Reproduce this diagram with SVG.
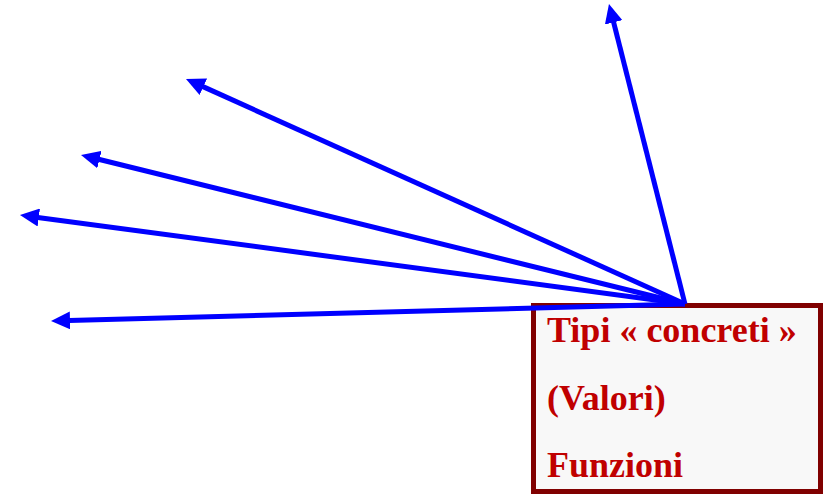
<svg xmlns="http://www.w3.org/2000/svg" width="827" height="496" viewBox="0 0 827 496">
<style>
.box{fill:#f8f8f8;stroke:#800000;stroke-width:5}
.lbl{font-family:"Liberation Serif",serif;font-weight:bold;font-size:36px;fill:#c00000}
.arr{stroke:#0000ff;stroke-width:5;fill:none;marker-end:url(#ah)}
</style>
<defs>
<marker id="ah" viewBox="0 0 19 18" markerWidth="19" markerHeight="18" markerUnits="userSpaceOnUse" refX="1" refY="9" orient="auto">
<path d="M0,0 L19,9 L0,18 z" fill="#0000ff"/>
</marker>
</defs>
<g id="node-tipi">
<rect class="box" x="533.5" y="305.5" width="287" height="186"/>
<text class="lbl" x="547" y="342">Tipi « concreti »</text>
<text class="lbl" x="547" y="410">(Valori)</text>
<text class="lbl" x="547" y="477">Funzioni</text>
</g>
<g id="connectors">
<line class="arr" x1="685" y1="304" x2="613.4" y2="21.4"/>
<line class="arr" x1="685" y1="304" x2="202.4" y2="86.4"/>
<line class="arr" x1="685" y1="304" x2="98.5" y2="159.3"/>
<line class="arr" x1="685" y1="304" x2="37.8" y2="217.4"/>
<line class="arr" x1="685" y1="304" x2="69" y2="320.5"/>
</g>
</svg>
